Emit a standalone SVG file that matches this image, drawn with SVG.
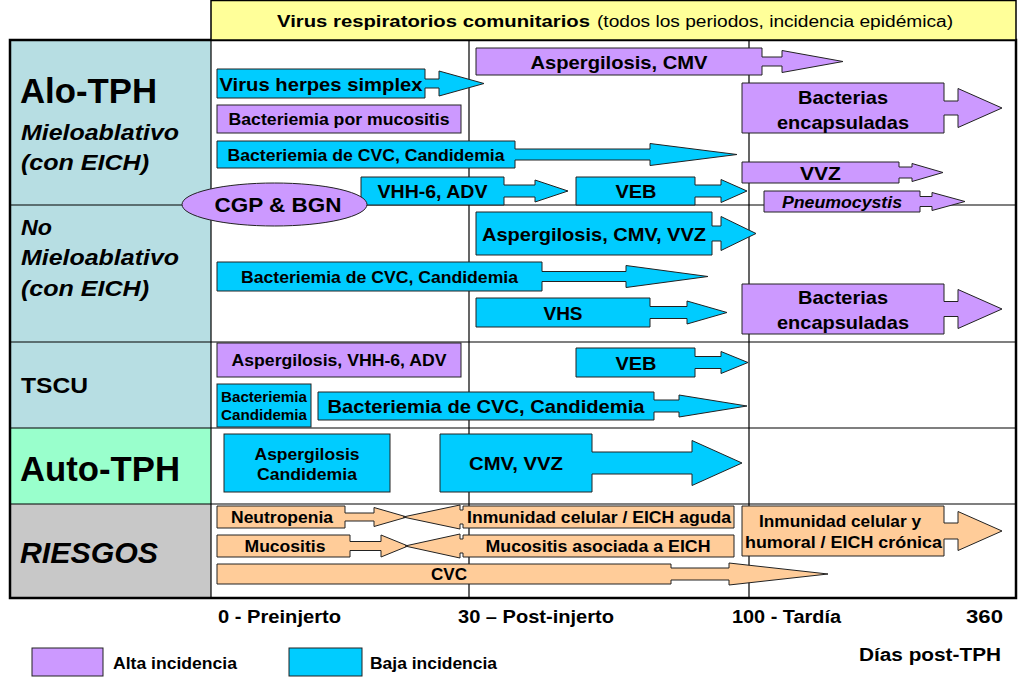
<svg xmlns="http://www.w3.org/2000/svg" width="1024" height="683" viewBox="0 0 1024 683">
<style>
text{font-family:"Liberation Sans",Arial,sans-serif;font-weight:bold;fill:#000}
.m{text-anchor:middle}
.l{font-size:19px}
.s{font-size:16.5px}
.p{fill:#CC99FF;stroke:#222;stroke-width:1}
.c{fill:#00CCFF;stroke:#222;stroke-width:1}
.o{fill:#FFCC99;stroke:#222;stroke-width:1}
.gl{stroke:#000;stroke-width:1.2;fill:none}
.it{font-style:italic}
</style>
<rect x="0" y="0" width="1024" height="683" fill="#fff"/>
<g id="grid">
<rect x="10" y="40" width="201" height="388" fill="#B7DEE3"/>
<rect x="10" y="428" width="201" height="76" fill="#99FFCC"/>
<rect x="10" y="504" width="201" height="94" fill="#C8C8C8"/>
<path class="gl" d="M10 205H1016M10 342H1016M10 428H1016M10 504H1016M211 40V598M469 40V598M749 40V598"/>
<rect x="10" y="40" width="1006" height="558" fill="none" stroke="#000" stroke-width="2.5"/>
</g>
<g id="header">
<rect x="211" y="0.5" width="805" height="39.5" fill="#FFFF99" stroke="#000" stroke-width="1.5"/>
<text x="277" y="27" font-size="17" textLength="313" lengthAdjust="spacingAndGlyphs">Virus respiratorios comunitarios</text>
<text x="597" y="27" font-size="16" style="font-weight:normal" textLength="356" lengthAdjust="spacingAndGlyphs">(todos los periodos, incidencia epidémica)</text>
</g>
<g id="rowlabels">
<text x="20" y="103" font-size="35" textLength="137" lengthAdjust="spacingAndGlyphs">Alo-TPH</text>
<text class="it" x="21" y="140" font-size="22" textLength="158" lengthAdjust="spacingAndGlyphs">Mieloablativo</text>
<text class="it" x="21" y="170" font-size="22" textLength="128" lengthAdjust="spacingAndGlyphs">(con EICH)</text>
<text class="it" x="21" y="235" font-size="22" textLength="31" lengthAdjust="spacingAndGlyphs">No</text>
<text class="it" x="21" y="265" font-size="22" textLength="158" lengthAdjust="spacingAndGlyphs">Mieloablativo</text>
<text class="it" x="21" y="296" font-size="22" textLength="128" lengthAdjust="spacingAndGlyphs">(con EICH)</text>
<text x="21" y="393" font-size="22" textLength="67" lengthAdjust="spacingAndGlyphs">TSCU</text>
<text x="20" y="481" font-size="35" textLength="160" lengthAdjust="spacingAndGlyphs">Auto-TPH</text>
<text class="it" x="20" y="563" font-size="29" textLength="138" lengthAdjust="spacingAndGlyphs">RIESGOS</text>
</g>
<g id="n-aspcmv"><path class="p" d="M476 48H762V57H782V50.5L843 61.5L782 72.5V66H762V75H476Z"/><text class="m l" x="619" y="68.5" textLength="177" lengthAdjust="spacingAndGlyphs">Aspergilosis, CMV</text></g>
<g id="n-vhs1"><path class="c" d="M217 69H425V79H439V71L484 83.5L439 96V88H425V98H217Z"/><text class="m l" x="321" y="90.5" textLength="203" lengthAdjust="spacingAndGlyphs">Virus herpes simplex</text></g>
<g id="n-bactmuc"><rect class="p" x="217" y="105" width="244" height="28"/><text class="m s" x="339" y="125" textLength="221" lengthAdjust="spacingAndGlyphs">Bacteriemia por mucositis</text></g>
<g id="n-bactenc1"><path class="p" d="M742 83H944V101H958V88.5L1002 108L958 127.5V115H944V133H742Z"/><text class="m l" x="843" y="104" textLength="90" lengthAdjust="spacingAndGlyphs">Bacterias</text><text class="m l" x="843" y="129" textLength="132" lengthAdjust="spacingAndGlyphs">encapsuladas</text></g>
<g id="n-cvc1"><path class="c" d="M217 141H515V149H650V143.5L737 154.5L650 165.5V160H515V168H217Z"/><text class="m s" x="366" y="160.5" textLength="277" lengthAdjust="spacingAndGlyphs">Bacteriemia de CVC, Candidemia</text></g>
<g id="n-vvz1"><path class="p" d="M742 162H899V167H912V163.5L943 172.5L912 181.5V178H899V183H742Z"/><text class="m l" x="820.5" y="179.5" textLength="41" lengthAdjust="spacingAndGlyphs">VVZ</text></g>
<g id="n-vhh1"><path class="c" d="M361 177H504V185H535V180L568 191L535 202V197H504V205H361Z"/><text class="m l" x="432.5" y="198" textLength="110" lengthAdjust="spacingAndGlyphs">VHH-6, ADV</text></g>
<g id="n-veb1"><path class="c" d="M576 177H695V185H721V179.5L747 191L721 202.5V197H695V205H576Z"/><text class="m l" x="636" y="198" textLength="41" lengthAdjust="spacingAndGlyphs">VEB</text></g>
<g id="n-pneumo"><path class="p" d="M764 191H920V196.5H932V192.5L965 201.5L932 210.5V206.5H920V212H764Z"/><text class="m it" x="842" y="207.5" font-size="16" textLength="120" lengthAdjust="spacingAndGlyphs">Pneumocystis</text></g>
<g id="n-cgp"><ellipse class="p" cx="274.5" cy="204.5" rx="92.5" ry="21.5"/><text class="m" x="278" y="212" font-size="21" textLength="127" lengthAdjust="spacingAndGlyphs">CGP &amp; BGN</text></g>
<g id="n-aspcmvvvz"><path class="c" d="M476 212H712V226H721V216.5L756 233.5L721 250.5V241H712V255H476Z"/><text class="m l" x="594" y="240.5" textLength="224" lengthAdjust="spacingAndGlyphs">Aspergilosis, CMV, VVZ</text></g>
<g id="n-cvc2"><path class="c" d="M217 262H542V271.5H626V265.5L708 276.5L626 287.5V281.5H542V291H217Z"/><text class="m s" x="379.5" y="282.5" textLength="277" lengthAdjust="spacingAndGlyphs">Bacteriemia de CVC, Candidemia</text></g>
<g id="n-vhs2"><path class="c" d="M476 298H650V306.5H687V301L727 312.5L687 324V318.5H650V327H476Z"/><text class="m l" x="563" y="319.5" textLength="39" lengthAdjust="spacingAndGlyphs">VHS</text></g>
<g id="n-bactenc2"><path class="p" d="M742 284H944V301.5H958V289.5L1002 309L958 328.5V316.5H944V334H742Z"/><text class="m l" x="843" y="304" textLength="90" lengthAdjust="spacingAndGlyphs">Bacterias</text><text class="m l" x="843" y="329" textLength="132" lengthAdjust="spacingAndGlyphs">encapsuladas</text></g>
<g id="n-aspvhh"><rect class="p" x="217" y="343" width="244" height="34"/><text class="m s" x="339" y="366" textLength="215" lengthAdjust="spacingAndGlyphs">Aspergilosis, VHH-6, ADV</text></g>
<g id="n-veb2"><path class="c" d="M576 348H695V356.5H721V351.5L748 362.5L721 373.5V368.5H695V377H576Z"/><text class="m l" x="636" y="369.5" textLength="41" lengthAdjust="spacingAndGlyphs">VEB</text></g>
<g id="n-bactcand"><rect class="c" x="217" y="384" width="94" height="43"/><text class="m" x="264" y="402" font-size="14" textLength="86" lengthAdjust="spacingAndGlyphs">Bacteriemia</text><text class="m" x="264" y="420" font-size="14" textLength="86" lengthAdjust="spacingAndGlyphs">Candidemia</text></g>
<g id="n-cvc3"><path class="c" d="M318 392H654V400H679V395L747 406L679 417V412H654V420H318Z"/><text class="m l" x="486" y="413" textLength="317" lengthAdjust="spacingAndGlyphs">Bacteriemia de CVC, Candidemia</text></g>
<g id="n-aspcand"><rect class="c" x="224" y="434" width="166" height="58"/><text class="m s" x="307" y="460" textLength="105" lengthAdjust="spacingAndGlyphs">Aspergilosis</text><text class="m s" x="307" y="480" textLength="100" lengthAdjust="spacingAndGlyphs">Candidemia</text></g>
<g id="n-cmvvvz"><path class="c" d="M440 434H592V452H692V440.5L742 463L692 485.5V474H592V492H440Z"/><text class="m l" x="516" y="470" textLength="94" lengthAdjust="spacingAndGlyphs">CMV, VVZ</text></g>
<g id="n-neutro"><path class="o" d="M217 506H345V513H374V507.5L407 517L374 526.5V521H345V528H217Z"/><text class="m s" x="282" y="523" textLength="102" lengthAdjust="spacingAndGlyphs">Neutropenia</text></g>
<g id="n-inmag"><path class="o" d="M734 506H463V510H460V505L403 517L460 529V524H463V528H734Z"/><text class="m s" x="599" y="523" textLength="264" lengthAdjust="spacingAndGlyphs">Inmunidad celular / EICH aguda</text></g>
<g id="n-muco"><path class="o" d="M217 535H350V541.5H381V535L408 546L381 557V550.5H350V557H217Z"/><text class="m s" x="285" y="552" textLength="81" lengthAdjust="spacingAndGlyphs">Mucositis</text></g>
<g id="n-mucoeich"><path class="o" d="M734 535H463V539H460V534L405 546L460 558V553H463V557H734Z"/><text class="m s" x="598" y="552" textLength="225" lengthAdjust="spacingAndGlyphs">Mucositis asociada a EICH</text></g>
<g id="n-cvc"><path class="o" d="M217 564H671V568H729V563L828 574L729 585V580H671V584H217Z"/><text class="m s" x="449" y="580" textLength="36" lengthAdjust="spacingAndGlyphs">CVC</text></g>
<g id="n-inmcr"><path class="o" d="M742 506H944V523H958V511.5L1002 531L958 550.5V539H944V556H742Z"/><text class="m s" x="840" y="527" textLength="162" lengthAdjust="spacingAndGlyphs">Inmunidad celular y</text><text class="m s" x="843.5" y="548" textLength="197" lengthAdjust="spacingAndGlyphs">humoral / EICH crónica</text></g>
<g id="axis">
<text x="218" y="623" font-size="18" textLength="123" lengthAdjust="spacingAndGlyphs">0 - Preinjerto</text>
<text x="458" y="623" font-size="18" textLength="156" lengthAdjust="spacingAndGlyphs">30 – Post-injerto</text>
<text x="732" y="623" font-size="18" textLength="109" lengthAdjust="spacingAndGlyphs">100 - Tardía</text>
<text x="966" y="623" font-size="18" textLength="37" lengthAdjust="spacingAndGlyphs">360</text>
<text x="859" y="661" font-size="18" textLength="142" lengthAdjust="spacingAndGlyphs">Días post-TPH</text>
</g>
<g id="legend">
<rect class="p" x="32" y="648" width="71" height="28"/>
<text x="113" y="669" font-size="16" textLength="124" lengthAdjust="spacingAndGlyphs">Alta incidencia</text>
<rect class="c" x="289" y="648" width="73" height="28"/>
<text x="370" y="669" font-size="16" textLength="127" lengthAdjust="spacingAndGlyphs">Baja incidencia</text>
</g>
</svg>
